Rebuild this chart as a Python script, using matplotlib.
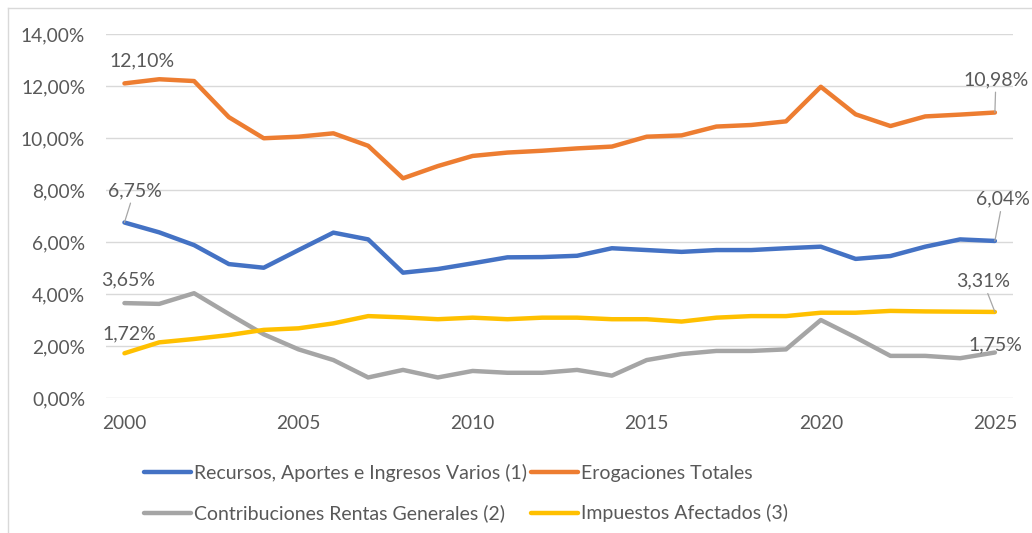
import matplotlib
matplotlib.use("Agg")
import matplotlib.pyplot as plt
from matplotlib.ticker import FuncFormatter

plt.rcParams["font.family"] = ["Lato", "DejaVu Sans"]

years = list(range(2000, 2026))
recursos = [6.75, 6.37, 5.88, 5.15, 5.01, 5.69, 6.36, 6.10, 4.82, 4.96, 5.18, 5.41, 5.42,
            5.47, 5.76, 5.69, 5.62, 5.69, 5.69, 5.76, 5.82, 5.35, 5.46, 5.82, 6.10, 6.04]
erogaciones = [12.10, 12.26, 12.19, 10.80, 9.99, 10.05, 10.18, 9.70, 8.45, 8.92, 9.31, 9.44, 9.51,
               9.60, 9.67, 10.05, 10.10, 10.44, 10.50, 10.64, 11.97, 10.91, 10.46, 10.83, 10.90, 10.98]
contribuciones = [3.65, 3.62, 4.03, 3.23, 2.45, 1.87, 1.46, 0.79, 1.08, 0.79, 1.04, 0.97, 0.97,
                  1.08, 0.86, 1.46, 1.69, 1.81, 1.81, 1.87, 3.00, 2.33, 1.62, 1.62, 1.53, 1.75]
impuestos = [1.72, 2.14, 2.27, 2.42, 2.62, 2.68, 2.87, 3.15, 3.10, 3.03, 3.09, 3.03, 3.09,
             3.09, 3.03, 3.03, 2.94, 3.09, 3.15, 3.15, 3.28, 3.28, 3.35, 3.33, 3.32, 3.31]
labels = ["Recursos, Aportes e Ingresos Varios (1)", "Erogaciones Totales",
          "Contribuciones Rentas Generales (2)", "Impuestos Afectados (3)"]

BLUE = "#4472C4"
ORANGE = "#ED7D31"
GRAY = "#A5A5A5"
YELLOW = "#FFC000"
TXT = "#595959"
GRID = "#D9D9D9"

fig = plt.figure(figsize=(10.32, 5.33), dpi=100)
ax = fig.add_axes([106 / 1032, 1 - 398 / 533, (1013 - 106) / 1032, (398 - 34) / 533])

series = [recursos, erogaciones, contribuciones, impuestos]
colors = [BLUE, ORANGE, GRAY, YELLOW]
lines = []
for vals, c, lab in zip(series, colors, labels):
    ln, = ax.plot(years, vals, color=c, lw=3.2, label=lab, solid_capstyle="round",
                  solid_joinstyle="round", zorder=3)
    lines.append(ln)

ax.set_xlim(1999.47, 2025.52)
ax.set_ylim(0, 14)
ax.set_yticks(range(0, 15, 2))
ax.yaxis.set_major_formatter(FuncFormatter(lambda v, p: f"{v:.2f}%".replace(".", ",")))
ax.set_xticks(range(2000, 2026, 5))
ax.grid(axis="y", color=GRID, lw=1)
ax.set_axisbelow(True)
for s in ax.spines.values():
    s.set_visible(False)
ax.tick_params(length=0, colors=TXT, labelsize=13.8)
ax.tick_params(axis="y", pad=15)
ax.tick_params(axis="x", pad=12)

def lab(x, y, txt, dx, dy, leader=False):
    kw = {}
    if leader:
        kw["arrowprops"] = dict(arrowstyle="-", color="#A6A6A6", lw=0.9, shrinkA=1, shrinkB=0)
    ax.annotate(txt, xy=(x, y), xytext=(dx, dy), textcoords="offset pixels",
                ha="center", va="center", fontsize=14, color=TXT, zorder=5, **kw)

lab(2000, erogaciones[0], "12,10%", 18, 23)
lab(2000, recursos[0], "6,75%", 10, 32, leader=True)
lab(2000, contribuciones[0], "3,65%", 4, 23)
lab(2000, impuestos[0], "1,72%", 5, 19)
lab(2025, erogaciones[-1], "10,98%", 1, 33, leader=True)
lab(2025, recursos[-1], "6,04%", 8, 42, leader=True)
lab(2025, impuestos[-1], "3,31%", -12, 31, leader=True)
lab(2025, contribuciones[-1], "1,75%", 1, 8)

order = [0, 2, 1, 3]
fig.legend([lines[i] for i in order], [labels[i] for i in order],
           loc="upper left", bbox_to_anchor=(144 / 1032, 1 - 464 / 533), ncol=2,
           frameon=False, fontsize=14, handlelength=2.4, handletextpad=0.15,
           columnspacing=0.25, labelspacing=1.15, borderpad=0, borderaxespad=0,
           labelcolor=TXT)

# chart area border (only top/left visible)
fig.add_artist(plt.Line2D([8 / 1032, 1], [1 - 8 / 533, 1 - 8 / 533], color=GRID, lw=1))
fig.add_artist(plt.Line2D([8 / 1032, 8 / 1032], [0, 1 - 8 / 533], color=GRID, lw=1))

fig.savefig("out.png", dpi=100, facecolor="white")
